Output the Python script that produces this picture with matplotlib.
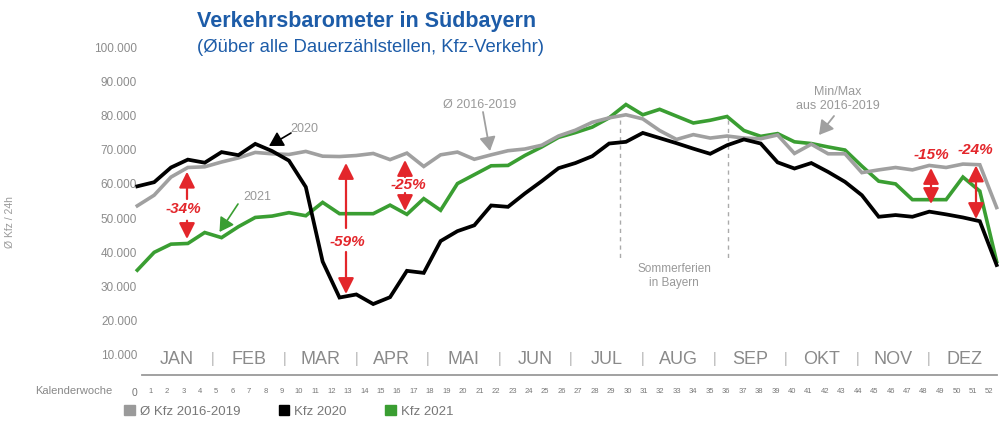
import numpy as np
import matplotlib.pyplot as plt
from matplotlib.patches import Patch

plt.rcParams['font.family'] = ['Liberation Sans', 'DejaVu Sans']

# Kfz / 24h je Kalenderwoche (1..52)
kfz_2016_2019 = [53300, 56400, 61700, 64500, 64700, 66100, 67300, 68900, 68500, 68300,
                 69200, 67800, 67700, 68000, 68600, 66800, 68700, 64800, 68200, 69000,
                 66900, 68200, 69400, 69900, 71000, 73700, 75400, 77700, 79000, 79900,
                 78700, 75300, 72700, 74100, 73100, 73700, 73100, 72900, 74000, 68600,
                 71300, 68500, 68500, 63000, 63800, 64500, 63800, 65100, 64500, 65500,
                 65300, 52800]
kfz_2020 = [59000, 60200, 64500, 66800, 65900, 69000, 68100, 71400, 69300, 66500,
            58800, 37000, 26500, 27400, 24600, 26600, 34300, 33700, 43000, 45900,
            47600, 53400, 53000, 56900, 60500, 64300, 65800, 67800, 71500, 72000,
            74600, 73100, 71600, 70000, 68500, 71000, 72700, 71500, 66000, 64200,
            65800, 63200, 60300, 56400, 50100, 50600, 50100, 51600, 50800, 49900,
            48800, 36000]
kfz_2021 = [34500, 39700, 42100, 42300, 45500, 44000, 47200, 49900, 50300, 51300,
            50400, 54300, 51000, 51000, 51000, 53500, 50800, 55400, 52000, 59800,
            62400, 65000, 65100, 68000, 70500, 73300, 74700, 76300, 79000, 82900,
            79900, 81500, 79500, 77500, 78300, 79400, 75300, 73600, 74400, 72000,
            71500, 70500, 69600, 64900, 60500, 59700, 55100, 55100, 55100, 61700,
            57600, 37000]

monate = ['JAN', 'FEB', 'MAR', 'APR', 'MAI', 'JUN', 'JUL', 'AUG', 'SEP', 'OKT', 'NOV', 'DEZ']
kalenderwochen = list(range(0, 53))
y_ticks = list(range(10000, 100001, 10000))

GRAU = '#a0a0a0'
GRUEN = '#3a9e32'
ROT = '#e3262b'
BLAU = '#1d5ca8'
TXT = '#8c8c8c'

W, H = 1006, 427
fig = plt.figure(figsize=(W / 100, H / 100), dpi=100)

# Achse: Index 0..51, Pixel 137.3 + 16.85*i
x0_px, dx_px = 137.3, 16.85
xlim = (-0.5, 51.5)
ax_l = (x0_px + xlim[0] * dx_px) / W
ax_w = (xlim[1] - xlim[0]) * dx_px / W
ax = fig.add_axes([ax_l, (H - 355) / H, ax_w, (355 - 47) / H])
ax.set_xlim(*xlim)
ax.set_ylim(10000, 100000)


def px2x(px):
    return (px - x0_px) / dx_px


def py2y(py):
    return 100000 - (py - 47) * 90000 / 308


x = np.arange(len(kfz_2020))
ax.plot(x, kfz_2021, color=GRUEN, lw=2.6, solid_joinstyle='miter', clip_on=False, zorder=2)
ax.plot(x, kfz_2016_2019, color=GRAU, lw=2.6, solid_joinstyle='miter', clip_on=False, zorder=3)
ax.plot(x, kfz_2020, color='black', lw=2.7, solid_joinstyle='miter', clip_on=False, zorder=4)

for s in ax.spines.values():
    s.set_visible(False)

ax.set_yticks(y_ticks)
ax.set_yticklabels([f'{v:,}'.replace(',', '.') for v in y_ticks])
ax.tick_params(axis='y', length=0, pad=-6, labelsize=8.5, labelcolor=TXT)

# Kalenderwochen als x-Ticks
kw_pos = [px2x(134 + 16.45 * w) for w in kalenderwochen]
ax.set_xticks(kw_pos)
ax.set_xticklabels([str(w) for w in kalenderwochen])
ax.tick_params(axis='x', length=0, pad=24, labelsize=5.5, labelcolor='#777777')
ax.get_xticklabels()[0].set_fontsize(7.5)

fig.text(112 / W, 1 - 391 / H, 'Kalenderwoche', ha='right', va='center', fontsize=8, color='#888888')

# Monatszeile
for m, name in enumerate(monate):
    ax.text(px2x(177 + 71.6 * m), py2y(360), name, ha='center', va='center',
            fontsize=13, color='#8a8a8a', clip_on=False)
    if m < len(monate) - 1:
        ax.text(px2x(213 + 71.6 * m), py2y(359), '|', ha='center', va='center',
                fontsize=10, color='#b0b0b0', clip_on=False)
ax.plot([px2x(141.7), px2x(996.7)], [py2y(375.7)] * 2, color='#9a9a9a', lw=1.3, clip_on=False)

# Sommerferien
for px in (620, 727.7):
    ax.plot([px2x(px)] * 2, [py2y(121), py2y(260)], color='#aaaaaa', lw=1, ls=(0, (3, 3)), zorder=1)
ax.text(px2x(674), py2y(276), 'Sommerferien\nin Bayern', ha='center', va='center',
        fontsize=8.5, color='#999999', linespacing=1.3)

# Beschriftungen mit Pfeilen


def pfeil(start, tip, color, lw=1.2, hl=0.6, hw=0.35, ms=14):
    ax.annotate('', xy=(px2x(tip[0]), py2y(tip[1])), xytext=(px2x(start[0]), py2y(start[1])),
                arrowprops=dict(arrowstyle=f'-|>,head_length={hl},head_width={hw}',
                                color=color, lw=lw, mutation_scale=ms, shrinkA=0, shrinkB=0),
                zorder=6, annotation_clip=False)


ax.text(px2x(304), py2y(129), '2020', ha='center', va='center', fontsize=9, color='#999999')
pfeil((291, 134), (269, 147), 'black', lw=1.2)
ax.text(px2x(257), py2y(197), '2021', ha='center', va='center', fontsize=9, color='#999999')
pfeil((238, 205), (219.5, 233), GRUEN, lw=1.2)
ax.text(px2x(480), py2y(105), 'Ø 2016-2019', ha='center', va='center', fontsize=9, color='#999999')
pfeil((483, 113), (490, 152), GRAU, lw=1.3)
ax.text(px2x(838), py2y(99), 'Min/Max\naus 2016-2019', ha='center', va='center',
        fontsize=9, color='#999999', linespacing=1.3)
pfeil((834, 117), (819, 136), GRAU, lw=1.3)

# rote Differenzpfeile: Text, x-Pixel, Text-y, [(Start-y, Spitze-y), ...]
diffs = [
    ('-34%', 187, 209.5, [(200, 172.7), (221.7, 240)]),
    ('-59%', 346, 241.7, [(229, 164), (253, 295)]),
    ('-25%', 405, 185.5, [(178, 161), (194, 212)]),
    ('-15%', 931, 155, [(188, 169), (188, 205)]),
    ('-24%', 976, 150, [(192, 166.5), (192, 220)]),
]
text_x = {'-25%': 408, '-15%': 931, '-24%': 975, '-34%': 183, '-59%': 347}
for label, px, ty, arrows in diffs:
    for y_start, y_tip in arrows:
        pfeil((px, y_start), (px, y_tip), ROT, lw=1.6, hl=0.6, hw=0.3, ms=16)
    ax.text(px2x(text_x[label]), py2y(ty), label, ha='center', va='center', fontsize=11,
            color=ROT, fontweight='bold', fontstyle='italic', zorder=7)

# Titel
fig.text(197 / W, 1 - 22 / H, 'Verkehrsbarometer in Südbayern', ha='left', va='center',
         fontsize=15.5, fontweight='bold', color=BLAU)
fig.text(197 / W, 1 - 47 / H, '(Øüber alle Dauerzählstellen, Kfz-Verkehr)', ha='left', va='center',
         fontsize=13.3, color=BLAU)

fig.text(10 / W, 1 - 222 / H, 'Ø Kfz / 24h', rotation=90, ha='center', va='center',
         fontsize=7.5, color='#999999')

# Legende
handles = [Patch(color='#9a9a9a', label='Ø Kfz 2016-2019'),
           Patch(color='black', label='Kfz 2020'),
           Patch(color=GRUEN, label='Kfz 2021')]
fig.legend(handles=handles, loc='center left', bbox_to_anchor=(124 / W, 1 - 412 / H), ncol=3,
           frameon=False, fontsize=9.5, labelcolor='#777777', handlelength=0.8, handleheight=0.8,
           handletextpad=0.4, columnspacing=2.9, borderpad=0, borderaxespad=0)

fig.savefig('out.png', dpi=100)
